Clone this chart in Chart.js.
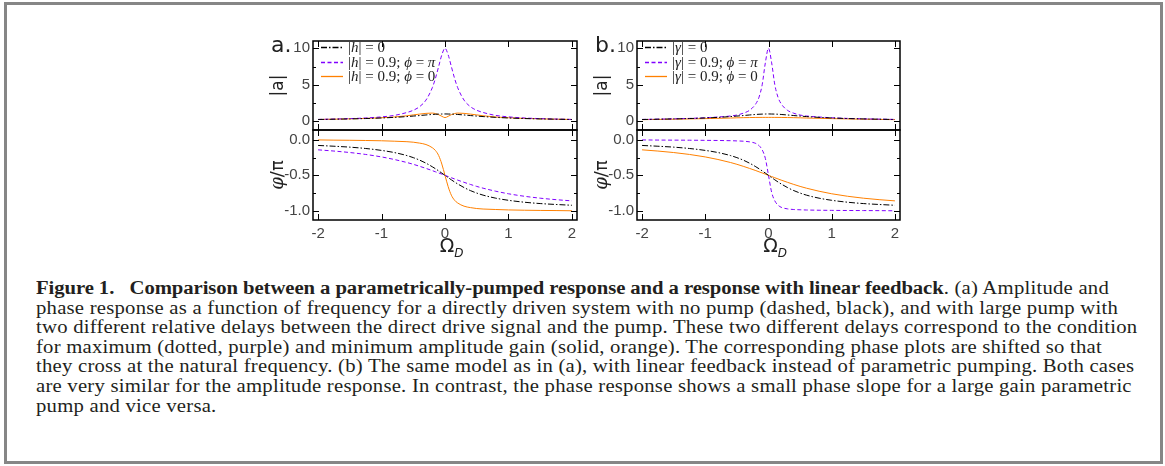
<!DOCTYPE html>
<html>
<head>
<meta charset="utf-8">
<script src="https://cdn.jsdelivr.net/npm/chart.js@4.4.1/dist/chart.umd.min.js"></script>
<style>
  html, body { margin: 0; padding: 0; background: #fff; }
  #page { position: relative; width: 1165px; height: 466px; overflow: hidden; background: #fff; }
  #frame { position: absolute; left: 4px; top: 2px; width: 1159px; height: 462px; border: 3px solid #868686; box-sizing: border-box; }
  canvas { position: absolute; }
  #caption { position: absolute; left: 36px; top: 279px; font-family: 'Liberation Serif', serif; font-size: 18px; letter-spacing: 0.2px; line-height: 19.6px; color: #231f20; white-space: nowrap; transform: scaleX(1.15); transform-origin: 0 0; }
  #caption b { letter-spacing: -0.07px; }
</style>
</head>
<body>
<div id="page">
  <div id="frame"></div>
  <canvas id="aTop" width="335" height="105" style="left:250px; top:30px"></canvas>
  <canvas id="aBot" width="335" height="145" style="left:250px; top:125px"></canvas>
  <canvas id="bTop" width="328" height="105" style="left:580px; top:30px"></canvas>
  <canvas id="bBot" width="328" height="145" style="left:580px; top:125px"></canvas>
  <div id="caption">
    <div><b>Figure 1.&nbsp;&nbsp; Comparison between a parametrically-pumped response and a response with linear feedback</b>. (a) Amplitude and</div>
    <div>phase response as a function of frequency for a directly driven system with no pump (dashed, black), and with large pump with</div>
    <div>two different relative delays between the direct drive signal and the pump. These two different delays correspond to the condition</div>
    <div>for maximum (dotted, purple) and minimum amplitude gain (solid, orange). The corresponding phase plots are shifted so that</div>
    <div>they cross at the natural frequency. (b) The same model as in (a), with linear feedback instead of parametric pumping. Both cases</div>
    <div>are very similar for the amplitude response. In contrast, the phase response shows a small phase slope for a large gain parametric</div>
    <div>pump and vice versa.</div>
  </div>
</div>
<script>
// drive frequency (x axis)
const omega = [-2, -1.75, -1.5, -1.25, -1, -0.8, -0.6, -0.5, -0.4, -0.3, -0.2, -0.15, -0.1, -0.05, 0,
               0.05, 0.1, 0.15, 0.2, 0.3, 0.4, 0.5, 0.6, 0.8, 1, 1.25, 1.5, 1.75, 2];

// (a) parametric pump: amplitude |a|
const ampA_none = [0.24, 0.28, 0.32, 0.37, 0.45, 0.53, 0.64, 0.71, 0.78, 0.86, 0.93, 0.96, 0.98, 0.99, 1.0,
                   0.99, 0.98, 0.96, 0.93, 0.86, 0.78, 0.71, 0.64, 0.53, 0.45, 0.37, 0.32, 0.28, 0.24];
const ampA_pi   = [0.25, 0.3, 0.36, 0.45, 0.6, 0.8, 1.2, 1.5, 2.0, 2.9, 4.6, 5.9, 7.5, 9.1, 10,
                   9.1, 7.5, 5.9, 4.6, 2.9, 2.0, 1.5, 1.2, 0.8, 0.6, 0.45, 0.36, 0.3, 0.25];
const ampA_zero = [0.24, 0.28, 0.33, 0.39, 0.48, 0.58, 0.75, 0.87, 0.98, 1.08, 1.12, 1.05, 0.9, 0.68, 0.5,
                   0.68, 0.9, 1.05, 1.12, 1.08, 0.98, 0.87, 0.75, 0.58, 0.48, 0.39, 0.33, 0.28, 0.24];
// (a) phase / pi
const phA_none = [-0.078, -0.089, -0.102, -0.121, -0.148, -0.178, -0.221, -0.25, -0.285, -0.328, -0.379, -0.407, -0.437, -0.468, -0.5,
                  -0.532, -0.563, -0.593, -0.621, -0.672, -0.715, -0.75, -0.779, -0.822, -0.852, -0.879, -0.898, -0.911, -0.922];
const phA_pi   = [-0.14, -0.157, -0.178, -0.205, -0.24, -0.276, -0.319, -0.344, -0.372, -0.402, -0.433, -0.45, -0.466, -0.483, -0.5,
                  -0.517, -0.534, -0.55, -0.567, -0.598, -0.628, -0.656, -0.681, -0.724, -0.76, -0.795, -0.822, -0.843, -0.86];
const phA_zero = [0, -0.003, -0.005, -0.008, -0.012, -0.018, -0.025, -0.032, -0.045, -0.065, -0.11, -0.15, -0.22, -0.34, -0.5,
                  -0.66, -0.78, -0.85, -0.89, -0.935, -0.955, -0.968, -0.975, -0.982, -0.988, -0.992, -0.995, -0.997, -1.0];

// (b) linear feedback: amplitude |a|
const ampB_none = [0.24, 0.28, 0.32, 0.37, 0.45, 0.53, 0.64, 0.71, 0.78, 0.86, 0.93, 0.96, 0.98, 0.99, 1.0,
                   0.99, 0.98, 0.96, 0.93, 0.86, 0.78, 0.71, 0.64, 0.53, 0.45, 0.37, 0.32, 0.28, 0.24];
const ampB_pi   = [0.25, 0.29, 0.33, 0.39, 0.48, 0.58, 0.72, 0.85, 1.1, 1.5, 2.4, 3.3, 5.0, 8.0, 10,
                   8.0, 5.0, 3.3, 2.4, 1.5, 1.1, 0.85, 0.72, 0.58, 0.48, 0.39, 0.33, 0.29, 0.25];
const ampB_zero = [0.22, 0.25, 0.28, 0.32, 0.36, 0.4, 0.44, 0.47, 0.49, 0.505, 0.52, 0.525, 0.528, 0.53, 0.53,
                   0.53, 0.528, 0.525, 0.52, 0.505, 0.49, 0.47, 0.44, 0.4, 0.36, 0.32, 0.28, 0.25, 0.22];
// (b) phase / pi
const phB_none = [-0.078, -0.089, -0.102, -0.121, -0.148, -0.178, -0.221, -0.25, -0.285, -0.328, -0.379, -0.407, -0.437, -0.468, -0.5,
                  -0.532, -0.563, -0.593, -0.621, -0.672, -0.715, -0.75, -0.779, -0.822, -0.852, -0.879, -0.898, -0.911, -0.922];
const phB_pi   = [0, -0.002, -0.003, -0.004, -0.006, -0.008, -0.011, -0.014, -0.018, -0.027, -0.05, -0.08, -0.14, -0.26, -0.5,
                  -0.74, -0.86, -0.92, -0.95, -0.973, -0.982, -0.986, -0.989, -0.992, -0.994, -0.996, -0.997, -0.998, -1.0];
const phB_zero = [-0.14, -0.157, -0.178, -0.205, -0.24, -0.276, -0.319, -0.344, -0.372, -0.402, -0.433, -0.45, -0.466, -0.483, -0.5,
                  -0.517, -0.534, -0.55, -0.567, -0.598, -0.628, -0.656, -0.681, -0.724, -0.76, -0.795, -0.822, -0.843, -0.86];

// tick values
const xTicks = [-2, -1, 0, 1, 2];
const ampTicks = [0, 5, 10];
const ampMinor = [2.5, 7.5];
const phTicks = [0, -0.5, -1];
const phMinor = [-0.25, -0.75];

const BLACK = '#000000', PURPLE = '#8000ff', ORANGE = '#ff8000';
const TICK_FONT = { family: "'Liberation Sans', sans-serif", size: 15 };
const TICK_COLOR = '#444444';

function pts(arr) { return omega.map((o, i) => ({ x: o, y: arr[i] })); }

function series(arr, color, dash) {
  return {
    data: pts(arr), borderColor: color, borderWidth: 1, borderDash: dash,
    pointRadius: 0, fill: false, cubicInterpolationMode: 'monotone'
  };
}

// text made of segments [text, italic, family?] drawn one after another
function segFont(seg, size, fam) { return (seg[1] ? 'italic ' : '') + size + 'px ' + (seg[2] || fam); }
function richWidth(ctx, segs, size, fam) {
  let w = 0;
  segs.forEach(s => { ctx.font = segFont(s, size, fam); w += ctx.measureText(s[0]).width; });
  return w;
}
function drawRich(ctx, segs, x, y, size, fam) {
  segs.forEach(s => {
    ctx.font = segFont(s, size, fam);
    ctx.fillText(s[0], x, y);
    x += ctx.measureText(s[0]).width;
  });
}

// box around the plot area with inward ticks on every side
const frameTicks = {
  id: 'frameTicks',
  afterDatasetsDraw(chart, args, o) {
    const { ctx, chartArea: a, scales: { x, y } } = chart;
    ctx.save();
    ctx.strokeStyle = '#000';
    ctx.lineWidth = 1;
    ctx.beginPath();
    const tick = (vals, len) => {
      vals.forEach(v => {
        const py = Math.round(y.getPixelForValue(v)) + 0.5;
        ctx.moveTo(a.left, py); ctx.lineTo(a.left + len, py);
        ctx.moveTo(a.right, py); ctx.lineTo(a.right - len, py);
      });
    };
    tick(o.yMajor, 6);
    tick(o.yMinor, 3);
    xTicks.forEach(v => {
      const px = Math.round(x.getPixelForValue(v)) + 0.5;
      ctx.moveTo(px, a.top); ctx.lineTo(px, a.top + 6);
      ctx.moveTo(px, a.bottom); ctx.lineTo(px, a.bottom - 6);
    });
    ctx.stroke();
    ctx.lineWidth = 1.5;
    ctx.strokeRect(a.left, a.top, a.right - a.left, a.bottom - a.top);
    ctx.restore();
  }
};

// panel letter, axis titles and legend
const decor = {
  id: 'decor',
  afterDraw(chart, args, o) {
    const { ctx, chartArea: a } = chart;
    ctx.save();
    ctx.fillStyle = '#222';
    ctx.textBaseline = 'alphabetic';
    if (o.panel) {
      ctx.font = "22px 'DejaVu Sans', sans-serif";
      ctx.fillText(o.panel, a.left - 42, a.top + 11);
    }
    if (o.yTitle) {
      const fam = o.yTitleFamily;
      const w = richWidth(ctx, o.yTitle, o.yTitleSize, fam);
      ctx.translate(a.left - 30, (a.top + a.bottom) / 2);
      ctx.rotate(-Math.PI / 2);
      drawRich(ctx, o.yTitle, -w / 2, 0, o.yTitleSize, fam);
      ctx.setTransform(1, 0, 0, 1, 0, 0);
    }
    if (o.omega) {
      const cx = (a.left + a.right) / 2;
      ctx.font = "19px 'DejaVu Sans', sans-serif";
      const w1 = ctx.measureText('\u03A9').width;
      ctx.fillText('\u03A9', cx - w1 / 2 + 2, a.bottom + 32);
      ctx.font = "italic 12px 'DejaVu Sans', sans-serif";
      ctx.fillText('D', cx + w1 / 2 + 2, a.bottom + 37);
    }
    if (o.legend) {
      const fam = "'Liberation Serif', serif";
      o.legend.forEach((segs, i) => {
        const ds = chart.data.datasets[i];
        const ly = Math.round(a.top + 6 + i * 14.5) + 0.5;
        ctx.strokeStyle = ds.borderColor;
        ctx.lineWidth = 1.3;
        ctx.setLineDash(ds.borderDash && ds.borderDash.length ? ds.borderDash : []);
        ctx.beginPath();
        ctx.moveTo(a.left + 8, ly); ctx.lineTo(a.left + 30, ly);
        ctx.stroke();
        ctx.setLineDash([]);
        ctx.fillStyle = '#222';
        drawRich(ctx, segs, a.left + 35, ly + 4.5, 15, fam);
      });
    }
    ctx.restore();
  }
};

function yScale(min, max, ticks, width, fmt) {
  return {
    type: 'linear', min: min, max: max,
    afterBuildTicks: s => { s.ticks = ticks.map(v => ({ value: v })); },
    afterFit: s => { s.width = width; s.paddingTop = 0; s.paddingBottom = 0; },
    grid: { display: false, drawTicks: false }, border: { display: false },
    ticks: { font: TICK_FONT, color: TICK_COLOR, padding: 3, callback: fmt }
  };
}
function xScale(show) {
  if (!show) return { type: 'linear', min: -2.08, max: 2.08, display: false };
  return {
    type: 'linear', min: -2.08, max: 2.08,
    afterBuildTicks: s => { s.ticks = xTicks.map(v => ({ value: v })); },
    afterFit: s => { s.height = 50; s.paddingLeft = 0; s.paddingRight = 0; },
    grid: { display: false, drawTicks: false }, border: { display: false },
    ticks: { font: TICK_FONT, color: TICK_COLOR, padding: 5, autoSkip: false, maxRotation: 0 }
  };
}

function makeChart(id, datasets, scales, padding, frameOpts, decorOpts) {
  return new Chart(document.getElementById(id), {
    type: 'line',
    data: { datasets: datasets },
    options: {
      responsive: false, animation: false, events: [],
      layout: { padding: padding },
      scales: scales,
      plugins: { legend: { display: false }, tooltip: { enabled: false }, frameTicks: frameOpts, decor: decorOpts }
    },
    plugins: [frameTicks, decor]
  });
}

const dashDot = [6, 2, 1.5, 2];
const dashed = [4, 2.5];
const SANS = "'DejaVu Sans', sans-serif";
const SERIF = "'DejaVu Serif', serif";
const fmtInt = v => String(v);
const fmtOne = v => v.toFixed(1);

const legA = [
  [['|', 0], ['h', 1], ['| = 0', 0]],
  [['|', 0], ['h', 1], ['| = 0.9; ', 0], ['\u03D5', 1], [' = ', 0], ['\u03C0', 1]],
  [['|', 0], ['h', 1], ['| = 0.9; ', 0], ['\u03D5', 1], [' = 0', 0]]
];
const legB = [
  [['|', 0], ['\u03B3', 1], ['| = 0', 0]],
  [['|', 0], ['\u03B3', 1], ['| = 0.9; ', 0], ['\u03D5', 1], [' = ', 0], ['\u03C0', 1]],
  [['|', 0], ['\u03B3', 1], ['| = 0.9; ', 0], ['\u03D5', 1], [' = 0', 0]]
];
const ampTitle = [['|a|', 0]];
const phTitle = [['\u03C6', 1], ['/\u03C0', 0, SANS]];

// panel (a)
makeChart('aTop',
  [series(ampA_none, BLACK, dashDot), series(ampA_pi, PURPLE, dashed), series(ampA_zero, ORANGE, [])],
  { x: xScale(false), y: yScale(-1.2, 11, ampTicks, 63, fmtInt) },
  { top: 11, right: 8, bottom: 5, left: 0 },
  { yMajor: ampTicks, yMinor: ampMinor },
  { panel: 'a.', yTitle: ampTitle, yTitleSize: 17, yTitleFamily: SANS, legend: legA });
makeChart('aBot',
  [series(phA_none, BLACK, dashDot), series(phA_pi, PURPLE, dashed), series(phA_zero, ORANGE, [])],
  { x: xScale(true), y: yScale(-1.13, 0.14, phTicks, 63, fmtOne) },
  { top: 5, right: 8, bottom: 0, left: 0 },
  { yMajor: phTicks, yMinor: phMinor },
  { yTitle: phTitle, yTitleSize: 18, yTitleFamily: SERIF, omega: true });

// panel (b)
makeChart('bTop',
  [series(ampB_none, BLACK, dashDot), series(ampB_pi, PURPLE, dashed), series(ampB_zero, ORANGE, [])],
  { x: xScale(false), y: yScale(-1.2, 11, ampTicks, 57, fmtInt) },
  { top: 11, right: 8, bottom: 5, left: 0 },
  { yMajor: ampTicks, yMinor: ampMinor },
  { panel: 'b.', yTitle: ampTitle, yTitleSize: 17, yTitleFamily: SANS, legend: legB });
makeChart('bBot',
  [series(phB_none, BLACK, dashDot), series(phB_pi, PURPLE, dashed), series(phB_zero, ORANGE, [])],
  { x: xScale(true), y: yScale(-1.13, 0.14, phTicks, 57, fmtOne) },
  { top: 5, right: 8, bottom: 0, left: 0 },
  { yMajor: phTicks, yMinor: phMinor },
  { yTitle: phTitle, yTitleSize: 18, yTitleFamily: SERIF, omega: true });
</script>
</body>
</html>
